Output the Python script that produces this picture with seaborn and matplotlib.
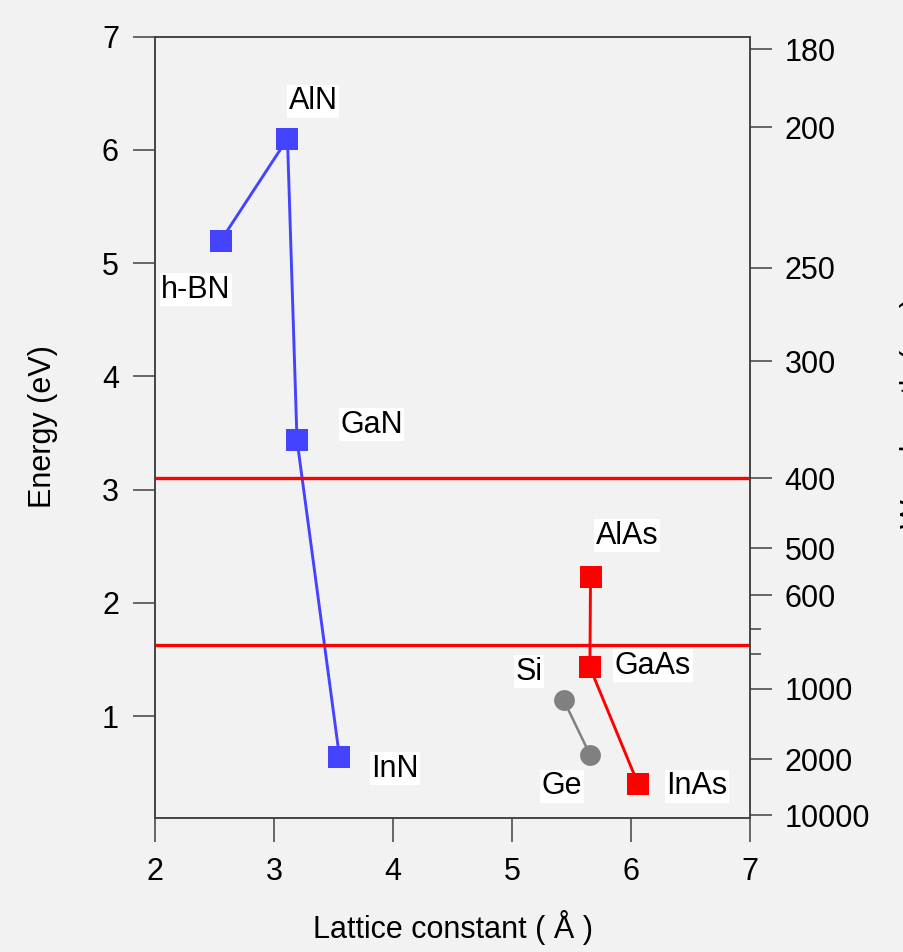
import matplotlib
matplotlib.use("Agg")
import matplotlib.pyplot as plt
import seaborn as sns
import pandas as pd
import numpy as np

### data

nitrideNames  = ["h-BN", "AlN", "GaN", "InN"]
nitrideLattice = [2.553, 3.113, 3.193, 3.55]
nitrideEnergy  = [5.20, 6.10, 3.44, 0.64]

arsenideNames  = ["AlAs", "GaAs", "InAs"]
arsenideLattice = [5.66, 5.655, 6.06]
arsenideEnergy  = [2.23, 1.43, 0.40]

groupIVNames  = ["Si", "Ge"]
groupIVLattice = [5.435, 5.655]
groupIVEnergy  = [1.14, 0.66]

# visible range limits (eV)
visibleLimits = [3.10, 1.63]

# right axis : wavelength (nm)
wavelengthTicks = [180, 200, 250, 300, 400, 500, 600, 1000, 2000, 10000]
wavelengthMinor = [700, 800]

labelNames = nitrideNames + arsenideNames + groupIVNames
labelX = [2.345, 3.328, 3.819, 4.017, 5.966, 6.185, 6.555, 5.143, 5.42]
labelY = [4.765, 6.43, 3.573, 0.535, 2.593, 1.446, 0.378, 1.393, 0.378]

####

sns.set_theme(style="ticks")
plt.rcParams['font.family'] = ['Liberation Sans', 'DejaVu Sans']
plt.rcParams['font.size'] = 22

bgColor = '#f2f2f2'
spineColor = '#404040'

fig = plt.figure(figsize=(9.04, 9.52), dpi=100, facecolor=bgColor)
ax = fig.add_axes([0.1715, 0.1408, 0.6581, 0.8206])
ax.set_facecolor(bgColor)

df1 = pd.DataFrame({"a": nitrideLattice, "E": nitrideEnergy})
df2 = pd.DataFrame({"a": arsenideLattice, "E": arsenideEnergy})
df3 = pd.DataFrame({"a": groupIVLattice, "E": groupIVEnergy})

sns.lineplot(data=df1, x="a", y="E", sort=False, estimator=None, color='#4444ff',
             linewidth=2.1, marker='s', markersize=15.6, markeredgewidth=0, ax=ax, zorder=3)
sns.lineplot(data=df2, x="a", y="E", sort=False, estimator=None, color='#ff0000',
             linewidth=2.1, marker='s', markersize=15.6, markeredgewidth=0, ax=ax, zorder=3)
sns.lineplot(data=df3, x="a", y="E", sort=False, estimator=None, color='#808080',
             linewidth=1.8, marker='o', markersize=15, markeredgewidth=0, ax=ax, zorder=3)

for lim in visibleLimits:
  ax.axhline(lim, color='#ff0000', linewidth=2.4, zorder=4)

for name, lx, ly in zip(labelNames, labelX, labelY):
  ax.text(lx, ly, name, ha='center', va='center', fontsize=22, color='black', zorder=5,
          bbox=dict(boxstyle='square,pad=0.05', facecolor='white', edgecolor='none'))

ax.set_xlim(2, 7)
ax.set_ylim(0.1, 7)
ax.set_xticks([2, 3, 4, 5, 6, 7])
ax.set_yticks([1, 2, 3, 4, 5, 6, 7])
ax.set_xlabel("Lattice constant ( Å )", fontsize=22, color='black')
ax.set_ylabel("Energy (eV)", fontsize=22, color='black')
ax.xaxis.set_label_coords(0.5008, -0.1175)
ax.xaxis.label.set_verticalalignment('top')
ax.yaxis.set_label_coords(-0.1626, 0.501)

ax.tick_params(axis='x', direction='out', length=17, width=1.1, pad=11, colors=spineColor, labelcolor='black', labelsize=22)
ax.tick_params(axis='y', direction='out', length=16, width=1.1, pad=10, colors=spineColor, labelcolor='black', labelsize=22)
for s in ax.spines.values():
  s.set_visible(True)
  s.set_color(spineColor)
  s.set_linewidth(1.1)

# right axis in wavelength
ax2 = ax.twinx()
ax2.set_ylim(ax.get_ylim())
ax2.set_yticks([1240.0 / w for w in wavelengthTicks])
ax2.set_yticklabels([str(w) for w in wavelengthTicks])
ax2.set_yticks([1240.0 / w for w in wavelengthMinor], minor=True)
ax2.tick_params(axis='y', which='major', direction='out', length=16, width=1.1, pad=9,
                colors=spineColor, labelcolor='black', labelsize=22)
ax2.tick_params(axis='y', which='minor', direction='out', length=8, width=1.1, colors=spineColor)
for s in ax2.spines.values():
  s.set_color(spineColor)
  s.set_linewidth(1.1)
ax2.set_ylabel("Wavelength (nm)", fontsize=22, color='black')
ax2.yaxis.set_label_coords(1.252, 0.5186)

fig.savefig("out.png", dpi=100, facecolor=bgColor)
